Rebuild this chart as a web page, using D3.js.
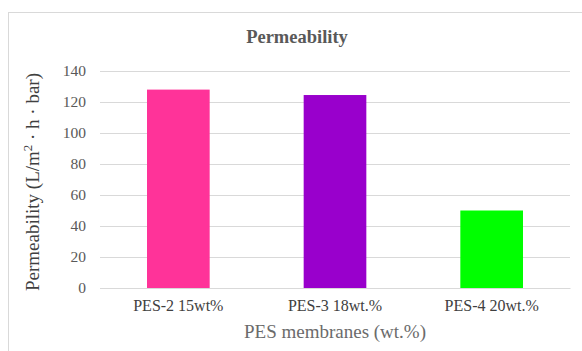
<!DOCTYPE html>
<html><head><meta charset="utf-8">
<script src="https://cdn.jsdelivr.net/npm/d3@7"></script>
<style>body{margin:0;background:#fff}</style>
</head><body><svg id="c" width="582" height="351"></svg>
<script>
const categories = ["PES-2 15wt%", "PES-3 18wt.%", "PES-4 20wt.%"];
const values = [128, 124.5, 50];
const colors = ["#ff3399", "#9900cc", "#00ff00"];
const yTicks = [0, 20, 40, 60, 80, 100, 120, 140];
const title = "Permeability";
const xTitle = "PES membranes (wt.%)";

const svg = d3.select("#c");
const font = "Liberation Serif";
svg.append("rect").attr("x", 8.5).attr("y", 12.5).attr("width", 600).attr("height", 400)
  .attr("fill", "#fff").attr("stroke", "#d9d9d9").attr("stroke-width", 1);

const pLeft = 100, pRight = 570, pTop = 71, pBottom = 288;
const x = d3.scaleBand().domain(categories).range([pLeft, pRight]).paddingInner(0.6).paddingOuter(0.3);
const y = d3.scaleLinear().domain([0, 140]).range([pBottom, pTop]);

const yAxis = svg.append("g").attr("transform", `translate(${pLeft},0)`)
  .call(d3.axisLeft(y).tickValues(yTicks).tickSize(-(pRight - pLeft)).tickPadding(14));
yAxis.attr("font-family", font);
yAxis.select(".domain").remove();
yAxis.selectAll(".tick line").attr("stroke", "#d9d9d9");
yAxis.selectAll(".tick text").attr("fill", "#595959").attr("font-family", font).attr("font-size", 15.5);

svg.selectAll("rect.bar").data(values).join("rect").attr("class", "bar")
  .attr("x", (d, i) => x(categories[i])).attr("width", x.bandwidth())
  .attr("y", d => y(d)).attr("height", d => y(0) - y(d))
  .attr("fill", (d, i) => colors[i]);

const xAxis = svg.append("g").attr("transform", `translate(0,${pBottom})`)
  .call(d3.axisBottom(x).tickSize(0).tickPadding(12));
xAxis.attr("font-family", font);
xAxis.select(".domain").attr("stroke", "#d9d9d9");
xAxis.selectAll(".tick text").attr("fill", "#404040").attr("font-family", font).attr("font-size", 16);

svg.append("text").attr("x", 297).attr("y", 43).attr("text-anchor", "middle")
  .attr("fill", "#595959").attr("font-family", font).attr("font-size", 18.5).attr("font-weight", "bold").text(title);

svg.append("text").attr("x", 335).attr("y", 338).attr("text-anchor", "middle")
  .attr("fill", "#6b6b6b").attr("font-family", font).attr("font-size", 19).text(xTitle);

const yt = svg.append("text").attr("transform", "translate(39,182) rotate(-90)").attr("text-anchor", "middle")
  .attr("fill", "#404040").attr("font-family", font).attr("font-size", 19);
yt.append("tspan").text("Permeability (L/m");
yt.append("tspan").attr("dy", -7).attr("font-size", 13).text("2");
yt.append("tspan").attr("dy", 7).text(" \u00b7 h \u00b7 bar)");
</script></body></html>
